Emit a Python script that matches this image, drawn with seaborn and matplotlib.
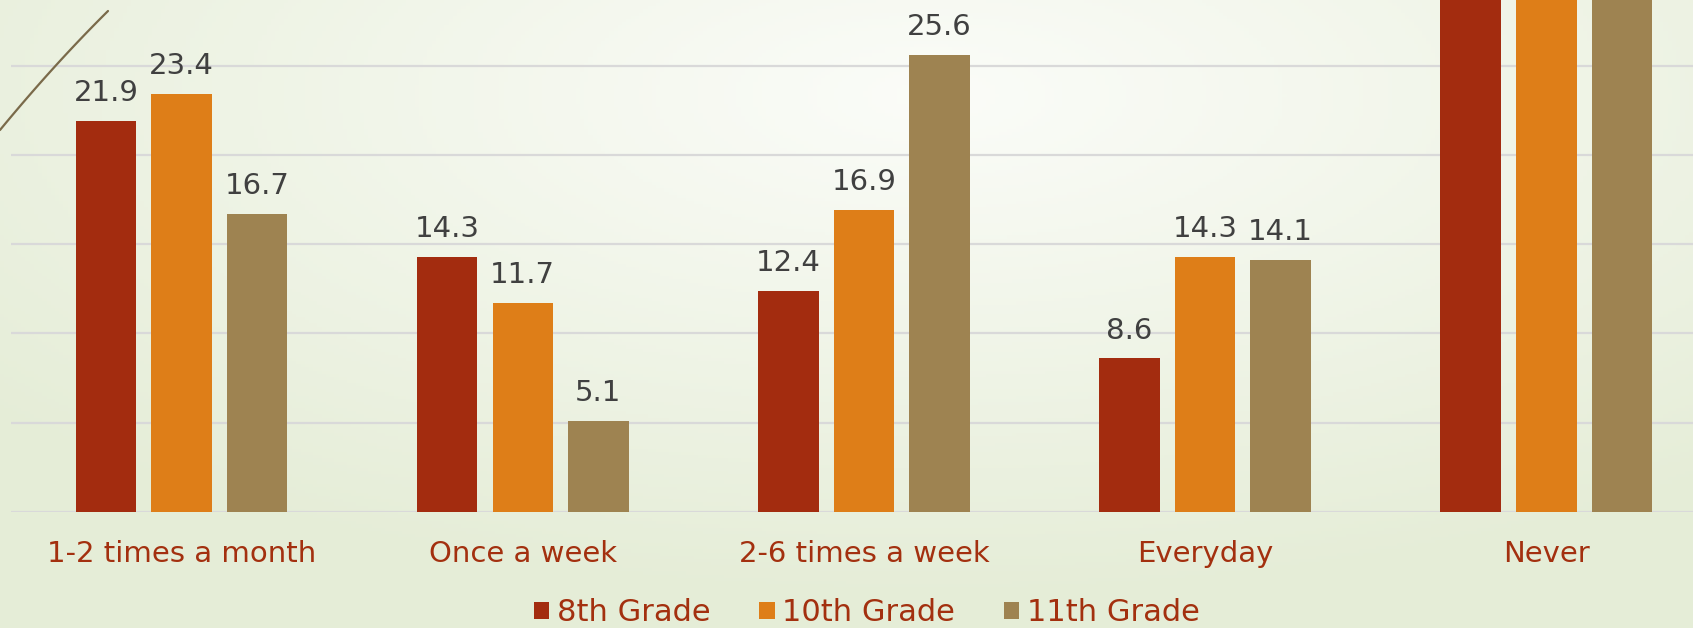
import numpy as np
import pandas as pd
import matplotlib
matplotlib.use("Agg")
import matplotlib.pyplot as plt
from matplotlib.patches import Patch
from matplotlib.lines import Line2D
import seaborn as sns

categories = ["1-2 times a month", "Once a week", "2-6 times a week", "Everyday", "Never"]
grades = ["8th Grade", "10th Grade", "11th Grade"]
grade8 = [21.9, 14.3, 12.4, 8.6, 42.8]
grade10 = [23.4, 11.7, 16.9, 14.3, 33.7]
grade11 = [16.7, 5.1, 25.6, 14.1, 38.5]
colors = ["#A32C0F", "#DE7E18", "#9E8351"]

df = pd.DataFrame({
    "category": categories * 3,
    "grade": [grades[0]] * 5 + [grades[1]] * 5 + [grades[2]] * 5,
    "value": grade8 + grade10 + grade11,
})

sns.set_theme(style="white")
plt.rcParams["font.family"] = ["DejaVu Sans"]

W, H = 1693, 628
fig = plt.figure(figsize=(W / 100, H / 100), dpi=100)

# background gradient
bg = fig.add_axes([0, 0, 1, 1], zorder=-10)
yy, xx = np.mgrid[0:1:200j, 0:1:400j]
d = np.sqrt(((xx - 0.55) * 1.0) ** 2 + ((yy - 0.15) * 0.9) ** 2)
d = np.clip(d / 0.72, 0, 1)
c_in = np.array([0.985, 0.99, 0.975])
c_out = np.array([0.90, 0.93, 0.845])
img = c_in[None, None, :] * (1 - d[..., None]) + c_out[None, None, :] * d[..., None]
bg.imshow(img, aspect="auto", extent=[0, 1, 1, 0])
bg.set_axis_off()

ax = fig.add_axes([11 / W, 1 - 512 / H, 1 - 11 / W, 512 / H])
ax.set_facecolor("none")

sns.barplot(data=df, x="category", y="value", hue="grade", order=categories,
            hue_order=grades, palette=colors, width=0.665, gap=0.2,
            saturation=1, ax=ax, legend=False, zorder=3,
            linewidth=0, edgecolor="none")

for cont in ax.containers:
    ax.bar_label(cont, fmt="%.1f", padding=10, fontsize=21, color="#404040")

ax.set_xlim(-0.5, 4.43)
ax.set_ylim(0, 28.68)
ax.set_yticks([0, 5, 10, 15, 20, 25])
ax.set_yticklabels([])
ax.yaxis.grid(True, color="#D9D9D9", linewidth=1.6, zorder=0)
ax.set_axisbelow(True)
for s in ax.spines.values():
    s.set_visible(False)
ax.tick_params(axis="x", length=0, pad=20, labelsize=21, labelcolor="#A3300F")
ax.tick_params(axis="y", length=0)
ax.set_xlabel("")
ax.set_ylabel("")

handles = [Patch(facecolor=c, edgecolor="none") for c in colors]
leg = ax.legend(handles, grades, loc="center", bbox_to_anchor=(0.512, 0.024),
                bbox_transform=fig.transFigure, ncol=3, frameon=False,
                fontsize=22, handlelength=0.5, handleheight=0.5,
                handletextpad=0.25, columnspacing=1.6)
for t in leg.get_texts():
    t.set_color("#A3300F")

# decorative line (top-left)
tt = np.linspace(0, 1, 30)
px = 108 * tt
py = 130 - 119 * tt - 12 * tt * (1 - tt)
fig.add_artist(Line2D(px / W, 1 - py / H, color="#7A6A4A", linewidth=1.6,
                      transform=fig.transFigure))

fig.savefig("out.png", dpi=100)
